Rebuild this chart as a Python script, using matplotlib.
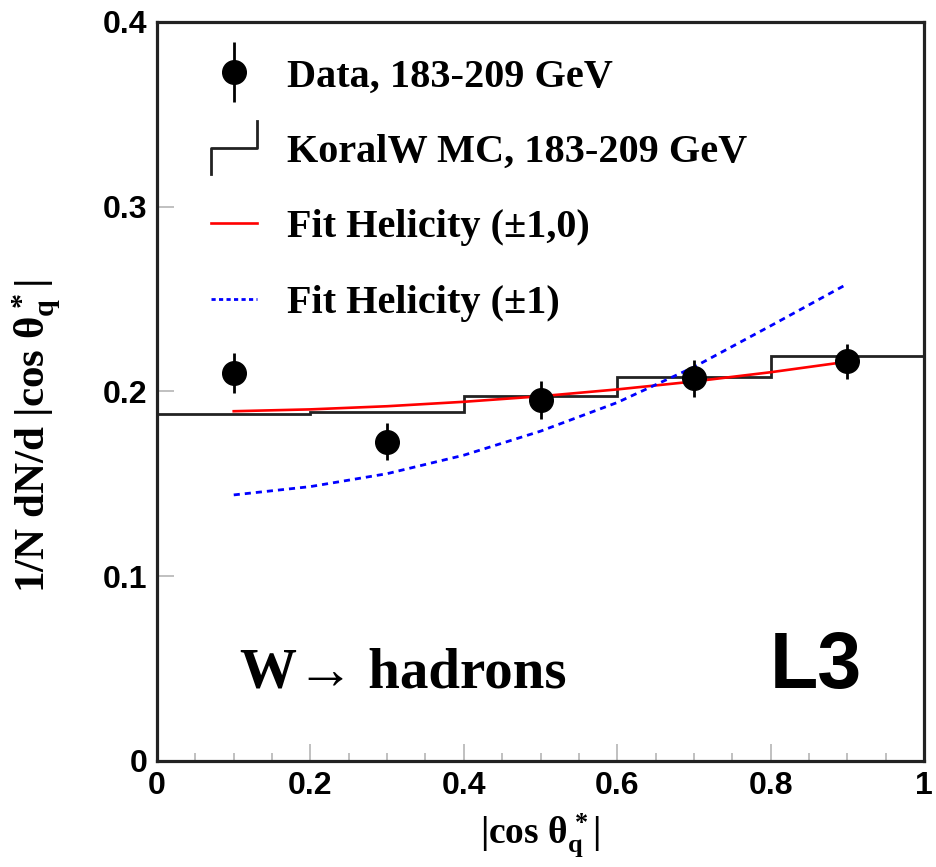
import matplotlib
matplotlib.use("Agg")
import matplotlib.pyplot as plt
from matplotlib.lines import Line2D
from matplotlib.legend_handler import HandlerBase, HandlerErrorbar

# Datos: distribucion angular |cos theta*_q| para W -> hadrones
bin_edges = [0.0, 0.2, 0.4, 0.6, 0.8, 1.0]
data_x = [0.1, 0.3, 0.5, 0.7, 0.9]
data_y = [0.2099, 0.1728, 0.1954, 0.2071, 0.2163]
data_err = [0.011, 0.010, 0.0105, 0.010, 0.0095]

# Simulacion KoralW (histograma)
mc_y = [0.1878, 0.1891, 0.1976, 0.2080, 0.2192]

fit_x = [0.1, 0.2, 0.3, 0.4, 0.5, 0.6, 0.7, 0.8, 0.9]
fit_pm10 = [0.1893, 0.1903, 0.1920, 0.1944, 0.1974, 0.2011, 0.2054, 0.2104, 0.2161]
fit_pm1 = [0.1440, 0.1485, 0.1555, 0.1655, 0.1785, 0.1940, 0.2132, 0.2355, 0.2582]

plt.rcParams["mathtext.fontset"] = "custom"
plt.rcParams["mathtext.rm"] = "Liberation Serif:bold"
plt.rcParams["mathtext.it"] = "Liberation Serif:bold"
plt.rcParams["mathtext.bf"] = "Liberation Serif:bold"

serif = ["Liberation Serif", "DejaVu Serif"]


class StepHandler(HandlerBase):
    # icono de la leyenda con forma de escalon
    def create_artists(self, legend, orig_handle, xdescent, ydescent,
                       width, height, fontsize, trans):
        x0, x1 = -xdescent, -xdescent + width
        yb, yt = -ydescent - 0.45 * height, -ydescent + 1.45 * height
        ym = 0.5 * (yb + yt)
        line = Line2D([x0, x0, x1, x1], [yb, ym, ym, yt],
                      color=orig_handle.get_color(), lw=orig_handle.get_linewidth(),
                      transform=trans)
        return [line]


fig = plt.figure(figsize=(9.37, 8.67), dpi=100)
ax = fig.add_axes([0.1676, 0.1223, 0.8185, 0.8524])

# Histograma de la simulacion
ax.stairs(mc_y, bin_edges, baseline=None, color="#222222", lw=2.0)

# Curvas de ajuste
ax.plot(fit_x, fit_pm10, color="red", lw=1.9)
ax.plot(fit_x, fit_pm1, color="blue", lw=2.0, linestyle=(0, (2.2, 1.8)))

# Datos con barras de error
data_h = ax.errorbar(data_x, data_y, yerr=data_err, fmt="o", color="black",
                     markersize=17, elinewidth=2.0, capsize=0)

ax.set_xlim(0, 1)
ax.set_ylim(0, 0.4)
ax.set_xticks([0, 0.2, 0.4, 0.6, 0.8, 1.0])
ax.set_xticklabels(["0", "0.2", "0.4", "0.6", "0.8", "1"])
ax.set_xticks([i * 0.05 for i in range(21)], minor=True)
ax.set_yticks([0, 0.1, 0.2, 0.3, 0.4])
ax.set_yticklabels(["0", "0.1", "0.2", "0.3", "0.4"])

ax.tick_params(which="both", direction="in", color="#bbbbbb", width=1.3,
               top=False, right=False)
ax.tick_params(which="major", length=12, pad=7)
ax.tick_params(which="minor", length=6)
for lab in ax.get_xticklabels() + ax.get_yticklabels():
    lab.set_fontfamily("Liberation Sans")
    lab.set_fontweight("bold")
    lab.set_fontsize(23)

for s in ax.spines.values():
    s.set_linewidth(2.3)
    s.set_color("#222222")

ax.set_xlabel(r"|cos $\theta_q^*$|", fontsize=27, family=serif,
              fontweight="bold", labelpad=8)
ax.set_ylabel(r"1/N dN/d |cos $\theta_q^*$|", fontsize=31, family=serif,
              fontweight="bold")
ax.yaxis.set_label_coords(-0.122, 0.44)

# Leyenda
mc_h = Line2D([], [], color="#222222", lw=2.0)
red_h = Line2D([], [], color="red", lw=1.9)
blue_h = Line2D([], [], color="blue", lw=2.0, linestyle=(0, (1.5, 1.2)))
leg = ax.legend([data_h, mc_h, red_h, blue_h],
                ["Data, 183-209 GeV", "KoralW MC, 183-209 GeV",
                 "Fit Helicity (\u00b11,0)", "Fit Helicity (\u00b11)"],
                handler_map={mc_h: StepHandler(),
                             type(data_h): HandlerErrorbar(yerr_size=0.75)},
                loc="upper left", bbox_to_anchor=(0.07, 0.951),
                frameon=False, borderpad=0, borderaxespad=0,
                handlelength=1.15, handletextpad=0.75, labelspacing=0.95,
                prop={"family": serif, "weight": "bold", "size": 29})

ax.text(0.108, 0.099, "W\u2192 hadrons", transform=ax.transAxes,
        fontsize=41, family=serif, fontweight="bold", va="baseline", ha="left")
ax.text(0.919, 0.099, "L3", transform=ax.transAxes, fontsize=57,
        family="Liberation Sans", fontweight="bold",
        va="baseline", ha="right")

fig.savefig("out.png", dpi=100)
